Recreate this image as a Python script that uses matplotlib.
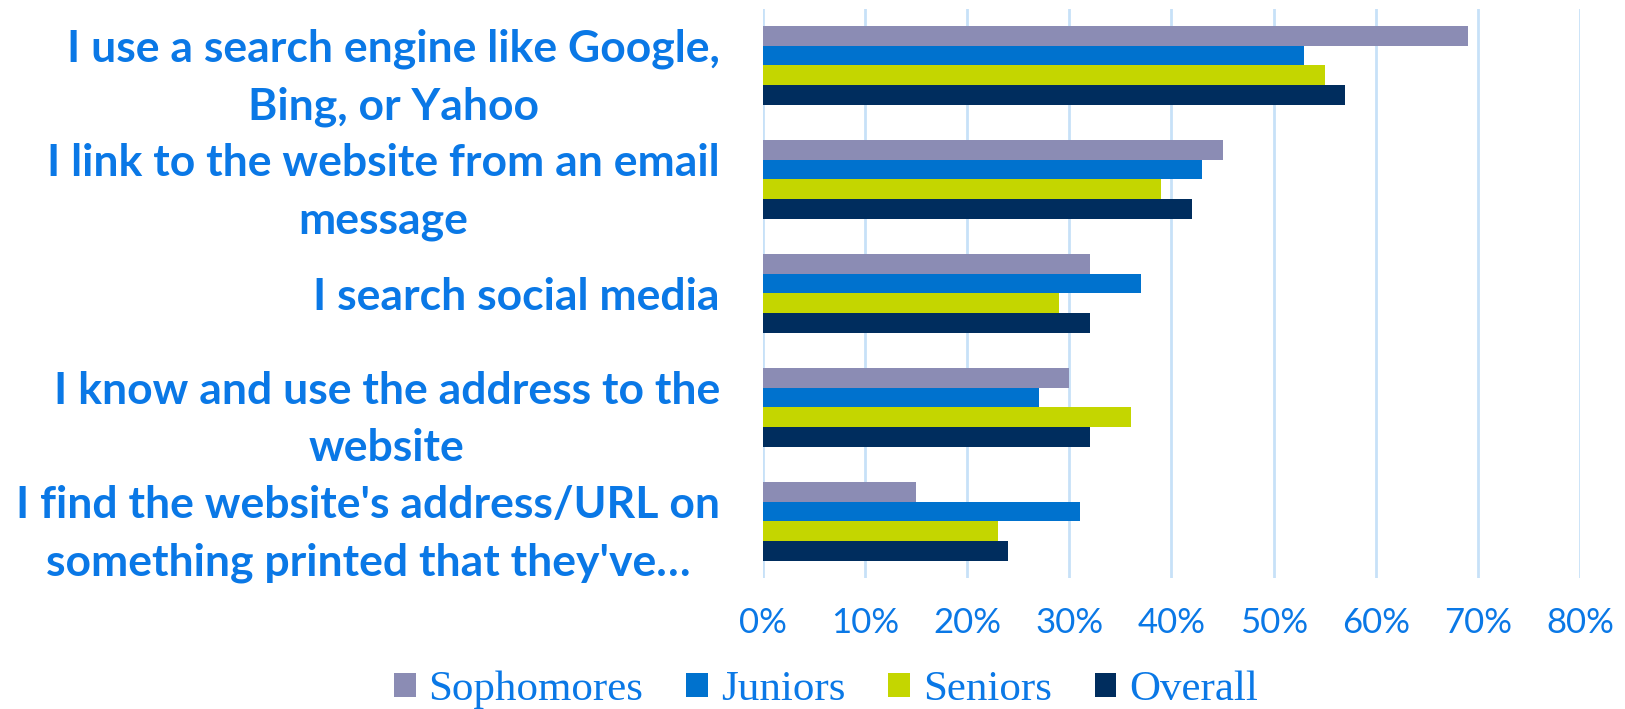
import matplotlib
matplotlib.use("Agg")
import matplotlib.pyplot as plt
import numpy as np
from matplotlib.ticker import FuncFormatter, MultipleLocator
from matplotlib.patches import Patch

categories = [
    "I use a search engine like Google,\nBing, or Yahoo",
    "I link to the website from an email\nmessage",
    "I search social media",
    "I know and use the address to the\nwebsite",
    "I find the website's address/URL on\nsomething printed that they've\u2026",
]
series_names = ["Sophomores", "Juniors", "Seniors", "Overall"]
sophomores = [0.69, 0.45, 0.32, 0.30, 0.15]
juniors = [0.53, 0.43, 0.37, 0.27, 0.31]
seniors = [0.55, 0.39, 0.29, 0.36, 0.23]
overall = [0.57, 0.42, 0.32, 0.32, 0.24]
colors = ["#8B8CB4", "#0072CE", "#C4D600", "#002D5E"]

text_blue = "#0A78E6"
grid_blue = "#C7E1F8"

fig = plt.figure(figsize=(16.25, 7.09), dpi=100)
ax = fig.add_axes([0.4695, 0.1843, 0.5028, 0.8037])

values = [sophomores, juniors, seniors, overall]
n = len(series_names)
bar_h = 0.173
y = np.arange(len(categories))
for i, (name, vals, c) in enumerate(zip(series_names, values, colors)):
    offs = (i - (n - 1) / 2) * bar_h
    ax.barh(y + offs, vals, height=bar_h, color=c, label=name, zorder=3)

ax.set_ylim(len(categories) - 0.5, -0.5)
ax.set_xlim(0, 0.8)
ax.xaxis.set_major_locator(MultipleLocator(0.1))
ax.xaxis.set_major_formatter(FuncFormatter(lambda v, p: f"{v*100:.0f}%"))
ax.grid(axis="x", color=grid_blue, linewidth=2, zorder=0)
for s in ax.spines.values():
    s.set_visible(False)

ax.tick_params(axis="x", length=0, pad=21, labelsize=25, labelcolor=text_blue)
for lbl in ax.get_xticklabels():
    lbl.set_fontfamily("Lato")

ax.set_yticks(y)
ax.set_yticklabels(categories)
ax.tick_params(axis="y", length=0, pad=31, labelsize=32, labelcolor=text_blue)
for lbl in ax.get_yticklabels():
    lbl.set_fontfamily("Lato")
    lbl.set_fontweight("bold")
    lbl.set_multialignment("center")
    lbl.set_linespacing(1.52)

handles = [Patch(facecolor=c, edgecolor="none") for c in colors]
leg = fig.legend(handles, series_names, loc="center",
                 bbox_to_anchor=(826 / 1625, 1 - 690 / 709), ncol=4,
                 frameon=False, handlelength=0.5, handleheight=0.5,
                 handletextpad=0.3, columnspacing=1.0,
                 prop={"family": "Liberation Serif", "size": 31})
for t in leg.get_texts():
    t.set_color(text_blue)

fig.savefig("out.png", dpi=100)
